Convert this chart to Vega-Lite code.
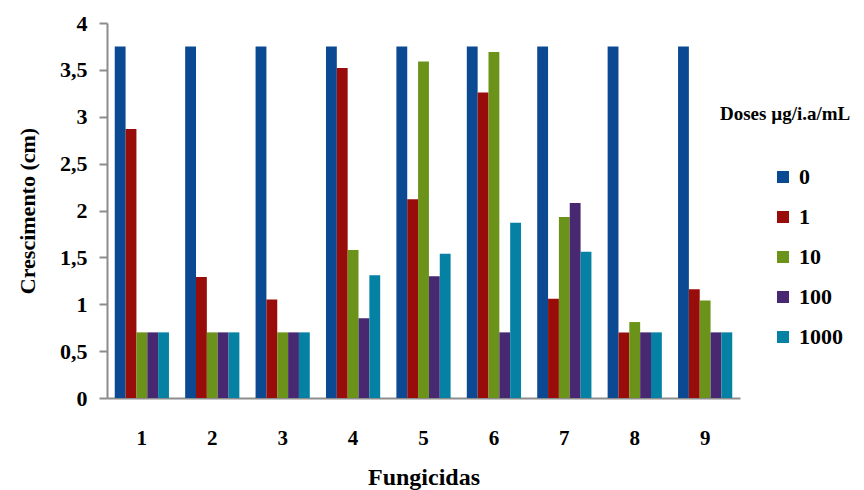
{
  "$schema": "https://vega.github.io/schema/vega-lite/v6.json",
  "width": 633,
  "height": 375,
  "autosize": {"type": "none"},
  "padding": {"left": 107, "top": 23, "right": 124, "bottom": 92},
  "config": {"view": {"stroke": null}, "font": "Liberation Serif"},
  "data": {
    "values": [
      {"fungicida": "1", "dose": "0", "value": 3.75},
      {"fungicida": "1", "dose": "1", "value": 2.87},
      {"fungicida": "1", "dose": "10", "value": 0.7},
      {"fungicida": "1", "dose": "100", "value": 0.7},
      {"fungicida": "1", "dose": "1000", "value": 0.7},
      {"fungicida": "2", "dose": "0", "value": 3.75},
      {"fungicida": "2", "dose": "1", "value": 1.29},
      {"fungicida": "2", "dose": "10", "value": 0.7},
      {"fungicida": "2", "dose": "100", "value": 0.7},
      {"fungicida": "2", "dose": "1000", "value": 0.7},
      {"fungicida": "3", "dose": "0", "value": 3.75},
      {"fungicida": "3", "dose": "1", "value": 1.05},
      {"fungicida": "3", "dose": "10", "value": 0.7},
      {"fungicida": "3", "dose": "100", "value": 0.7},
      {"fungicida": "3", "dose": "1000", "value": 0.7},
      {"fungicida": "4", "dose": "0", "value": 3.75},
      {"fungicida": "4", "dose": "1", "value": 3.52},
      {"fungicida": "4", "dose": "10", "value": 1.58},
      {"fungicida": "4", "dose": "100", "value": 0.85},
      {"fungicida": "4", "dose": "1000", "value": 1.31},
      {"fungicida": "5", "dose": "0", "value": 3.75},
      {"fungicida": "5", "dose": "1", "value": 2.12},
      {"fungicida": "5", "dose": "10", "value": 3.59},
      {"fungicida": "5", "dose": "100", "value": 1.3},
      {"fungicida": "5", "dose": "1000", "value": 1.54},
      {"fungicida": "6", "dose": "0", "value": 3.75},
      {"fungicida": "6", "dose": "1", "value": 3.26},
      {"fungicida": "6", "dose": "10", "value": 3.69},
      {"fungicida": "6", "dose": "100", "value": 0.7},
      {"fungicida": "6", "dose": "1000", "value": 1.87},
      {"fungicida": "7", "dose": "0", "value": 3.75},
      {"fungicida": "7", "dose": "1", "value": 1.06},
      {"fungicida": "7", "dose": "10", "value": 1.93},
      {"fungicida": "7", "dose": "100", "value": 2.08},
      {"fungicida": "7", "dose": "1000", "value": 1.56},
      {"fungicida": "8", "dose": "0", "value": 3.75},
      {"fungicida": "8", "dose": "1", "value": 0.7},
      {"fungicida": "8", "dose": "10", "value": 0.81},
      {"fungicida": "8", "dose": "100", "value": 0.7},
      {"fungicida": "8", "dose": "1000", "value": 0.7},
      {"fungicida": "9", "dose": "0", "value": 3.75},
      {"fungicida": "9", "dose": "1", "value": 1.16},
      {"fungicida": "9", "dose": "10", "value": 1.04},
      {"fungicida": "9", "dose": "100", "value": 0.7},
      {"fungicida": "9", "dose": "1000", "value": 0.7}
    ]
  },
  "mark": {"type": "bar"},
  "encoding": {
    "x": {
      "field": "fungicida",
      "type": "nominal",
      "sort": ["1", "2", "3", "4", "5", "6", "7", "8", "9"],
      "scale": {"paddingInner": 0.23, "paddingOuter": 0.11},
      "axis": {
        "title": "Fungicidas",
        "labelAngle": 0,
        "ticks": false,
        "domainColor": "#8c8c8c",
        "domainWidth": 2,
        "labelFontWeight": "bold",
        "labelFontSize": 21,
        "labelPadding": 29,
        "labelColor": "black",
        "titleFontSize": 24,
        "titleFontWeight": "bold",
        "titlePadding": 17,
        "titleColor": "black"
      }
    },
    "xOffset": {
      "field": "dose",
      "type": "nominal",
      "sort": ["0", "1", "10", "100", "1000"],
      "scale": {"paddingInner": 0, "paddingOuter": 0}
    },
    "y": {
      "field": "value",
      "type": "quantitative",
      "scale": {"domain": [0, 4]},
      "axis": {
        "title": "Crescimento (cm)",
        "values": [0, 0.5, 1, 1.5, 2, 2.5, 3, 3.5, 4],
        "grid": false,
        "labelExpr": "replace(format(datum.value, '~g'), '.', ',')",
        "domainColor": "#8c8c8c",
        "domainWidth": 2,
        "tickColor": "#8c8c8c",
        "tickWidth": 2,
        "tickSize": 8,
        "labelPadding": 12,
        "labelFontWeight": "bold",
        "labelFontSize": 22,
        "labelColor": "black",
        "titleFontSize": 22,
        "titleFontWeight": "bold",
        "titleColor": "black",
        "titlePadding": 20
      }
    },
    "color": {
      "field": "dose",
      "type": "nominal",
      "sort": ["0", "1", "10", "100", "1000"],
      "scale": {
        "domain": ["0", "1", "10", "100", "1000"],
        "range": ["#0B4A93", "#980D0A", "#6B9319", "#482870", "#0581A3"]
      },
      "legend": {
        "title": "Doses µg/i.a/mL",
        "orient": "none",
        "legendX": 613,
        "legendY": 82,
        "titleFontSize": 19,
        "titleFontWeight": "bold",
        "titleColor": "black",
        "titlePadding": 42,
        "symbolType": "square",
        "symbolSize": 144,
        "symbolStrokeWidth": 0,
        "symbolOpacity": 1,
        "symbolOffset": 52,
        "labelOffset": 5,
        "labelFontSize": 22,
        "labelFontWeight": "bold",
        "labelColor": "black",
        "rowPadding": 18
      }
    }
  }
}
